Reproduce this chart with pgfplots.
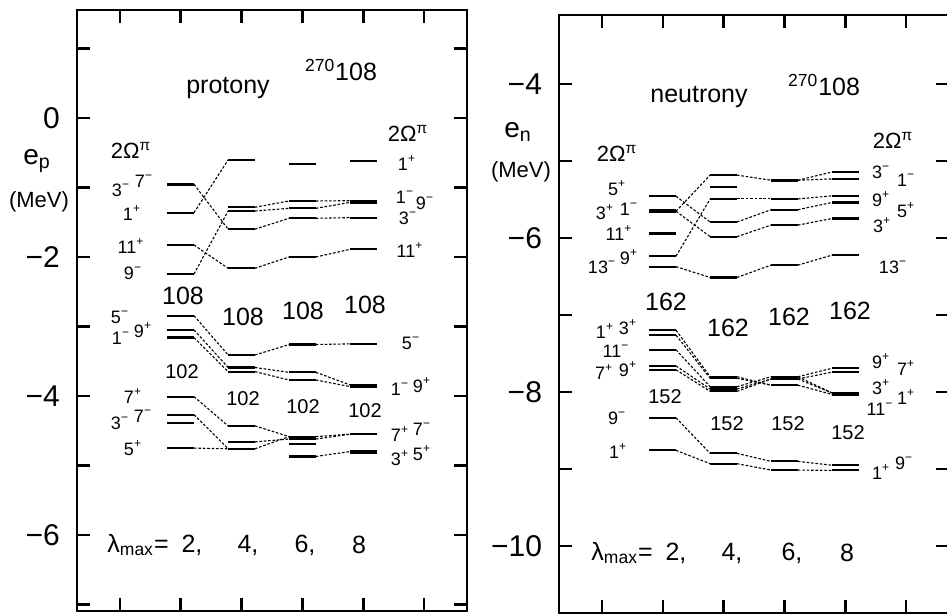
\documentclass[border=0pt]{standalone}
\usepackage{pgfplots}
\pgfplotsset{compat=1.18}
\usepackage{pgfplotstable}
\usepackage{fontspec}
\setmainfont{Liberation Sans}

\newcommand{\ticklab}{\fontsize{15}{15}\selectfont}
\newcommand{\flv}{\fontsize{9}{9}\selectfont}
\newcommand{\fbg}{\fontsize{12.5}{12.5}\selectfont}
\newcommand{\fep}{\fontsize{14}{14}\selectfont}
\newcommand{\fmd}{\fontsize{10}{10}\selectfont}
\newcommand{\fom}{\fontsize{11}{11}\selectfont}
\newcommand{\tx}[4]{\node[font=#1, inner sep=0pt] at ({#2*0.5pt},{-#3*0.5pt}) {#4};}
\newcommand{\s}[2]{#1\textsuperscript{#2}}

% proton levels: column x (2=lambda 2, 3=lambda 4, 4=lambda 6, 5=lambda 8), energy
\pgfplotstableread{
x y
2 -0.945
2 -0.965
2 -1.362
2 -1.827
2 -2.245
2 -2.845
2 -3.05
2 -3.16
2 -4.01
2 -4.27
2 -4.39
2 -4.75
3 -0.604
3 -1.285
3 -1.338
3 -1.60
3 -2.163
3 -3.41
3 -3.59
3 -3.65
3 -4.43
3 -4.66
3 -4.76
4 -0.667
4 -1.194
4 -1.30
4 -1.443
4 -2.0
4 -3.26
4 -3.66
4 -3.77
4 -4.585
4 -4.62
4 -4.69
4 -4.87
5 -0.614
5 -1.19
5 -1.215
5 -1.434
5 -1.89
5 -3.25
5 -3.84
5 -3.865
5 -4.55
5 -4.79
5 -4.815
}\pLev

% proton connections: from column x, energy e1 to next column, energy e2
\pgfplotstableread{
x e1 e2
2 -0.954 -1.60
2 -1.362 -0.604
2 -1.827 -2.163
2 -2.245 -1.338
2 -2.845 -3.41
2 -3.05 -3.59
2 -3.16 -3.65
2 -4.01 -4.43
2 -4.27 -4.76
2 -4.75 -4.76
3 -1.285 -1.194
3 -1.338 -1.30
3 -1.60 -1.443
3 -2.163 -2.0
3 -3.41 -3.26
3 -3.59 -3.66
3 -3.65 -3.77
3 -4.43 -4.585
3 -4.66 -4.62
3 -4.76 -4.585
4 -1.194 -1.19
4 -1.30 -1.215
4 -1.443 -1.434
4 -2.0 -1.89
4 -3.26 -3.25
4 -3.66 -3.84
4 -3.77 -3.865
4 -4.585 -4.55
4 -4.62 -4.55
4 -4.87 -4.80
}\pConn

% neutron levels
\pgfplotstableread{
x y
2 -5.455
2 -5.64
2 -5.66
2 -5.94
2 -6.234
2 -6.37
2 -7.195
2 -7.26
2 -7.45
2 -7.66
2 -7.71
2 -8.334
2 -8.757
3 -5.18
3 -5.334
3 -5.49
3 -5.79
3 -5.98
3 -6.51
3 -7.80
3 -7.82
3 -7.93
3 -7.96
3 -7.99
3 -8.796
3 -8.93
4 -5.24
4 -5.255
4 -5.49
4 -5.63
4 -5.83
4 -6.35
4 -7.80
4 -7.83
4 -7.91
4 -8.90
4 -9.013
5 -5.14
5 -5.23
5 -5.45
5 -5.536
5 -5.744
5 -6.22
5 -7.69
5 -7.74
5 -8.01
5 -8.03
5 -8.95
5 -9.017
}\nLev

% neutron connections
\pgfplotstableread{
x e1 e2
2 -5.455 -5.79
2 -5.65 -5.18
2 -5.65 -5.98
2 -6.234 -5.49
2 -6.37 -6.51
2 -7.195 -7.80
2 -7.26 -7.82
2 -7.45 -7.93
2 -7.66 -7.96
2 -7.71 -7.99
2 -8.334 -8.796
2 -8.757 -8.93
3 -5.18 -5.247
3 -5.49 -5.49
3 -5.79 -5.63
3 -5.98 -5.83
3 -6.51 -6.35
3 -7.80 -7.91
3 -7.82 -7.91
3 -7.93 -7.80
3 -7.96 -7.83
3 -7.99 -7.83
3 -8.796 -8.90
3 -8.93 -9.013
4 -5.247 -5.14
4 -5.247 -5.23
4 -5.49 -5.45
4 -5.63 -5.536
4 -5.83 -5.744
4 -6.35 -6.22
4 -7.80 -7.69
4 -7.83 -7.74
4 -7.80 -8.01
4 -7.83 -8.01
4 -7.91 -8.03
4 -8.90 -8.95
4 -9.013 -9.017
}\nConn

\pgfplotsset{
  lvlaxis/.style={
    scale only axis, width=195pt,
    xmin=0.3, xmax=6.7, xtick={1,2,3,4,5,6}, xticklabels={},
    axis line style={line width=1.4pt},
    tick style={line width=1.1pt, black},
    major tick length=6.5pt, minor tick length=6.5pt,
    tick align=inside,
    /pgf/number format/assume math mode=true,
    yticklabel style={font=\ticklab, xshift=-5pt},
    clip=false,
  },
  lvl/.style={draw=none, mark=none,
    error bars/x dir=both, error bars/x fixed=0.22,
    error bars/error mark=none,
    error bars/error bar style={draw=black, line width=1.1pt, solid}},
  conn/.style={black, mark=none, line width=0.55pt, dash pattern=on 1.3pt off 0.9pt,
    quiver={u=0.56, v=\thisrow{e2}-\thisrow{e1}}},
}

\begin{document}
\begin{tikzpicture}
% ---------------- protons ----------------
\begin{axis}[lvlaxis, at={(38.5pt,-5pt)}, anchor=north west, height=300.5pt,
  ymin=-7.094, ymax=1.554, ytick={-6,-4,-2,0}, yticklabels={−6,−4,−2,0},
  minor ytick={-7,-5,-3,-1,1}]
\addplot[lvl] table[x=x, y=y] {\pLev};
\addplot[conn] table[x expr=\thisrow{x}+0.22, y=e1] {\pConn};
\end{axis}
% ---------------- neutrons ----------------
\begin{axis}[lvlaxis, at={(279.5pt,-7.5pt)}, anchor=north west, height=299pt,
  ymin=-10.87, ymax=-3.10, ytick={-10,-8,-6,-4}, yticklabels={−10,−8,−6,−4},
  minor ytick={-9,-7,-5}]
\addplot[lvl] table[x=x, y=y] {\nLev};
\addplot[conn] table[x expr=\thisrow{x}+0.22, y=e1] {\nConn};
\end{axis}

% ---- proton texts ----
\tx{\fbg}{228}{88}{protony}
\tx{\fbg}{341}{70}{\textsuperscript{270}108}
\tx{\fep}{37}{161}{e\textsubscript{p}}
\tx{\fom}{39}{202}{(MeV)}
\tx{\fom}{131}{150}{2Ω\textsuperscript{π}}
\tx{\fom}{408}{133}{2Ω\textsuperscript{π}}
\tx{\flv}{121}{190}{\s{3}{−}}
\tx{\flv}{144}{181}{\s{7}{−}}
\tx{\flv}{132}{213}{\s{1}{+}}
\tx{\flv}{131}{246}{\s{11}{+}}
\tx{\flv}{133}{273}{\s{9}{−}}
\tx{\flv}{120}{317}{\s{5}{−}}
\tx{\flv}{121}{338}{\s{1}{−}}
\tx{\flv}{143}{330}{\s{9}{+}}
\tx{\flv}{133}{396}{\s{7}{+}}
\tx{\flv}{120}{423}{\s{3}{−}}
\tx{\flv}{143}{416}{\s{7}{−}}
\tx{\flv}{133}{448}{\s{5}{+}}
\tx{\flv}{407}{163}{\s{1}{+}}
\tx{\flv}{405}{197}{\s{1}{−}}
\tx{\flv}{425}{203}{\s{9}{−}}
\tx{\flv}{408}{218}{\s{3}{−}}
\tx{\flv}{410}{250}{\s{11}{+}}
\tx{\flv}{411}{343}{\s{5}{−}}
\tx{\flv}{400}{389}{\s{1}{−}}
\tx{\flv}{422}{385}{\s{9}{+}}
\tx{\flv}{400}{434}{\s{7}{+}}
\tx{\flv}{422}{429}{\s{7}{−}}
\tx{\flv}{400}{458}{\s{3}{+}}
\tx{\flv}{422}{453}{\s{5}{+}}
\tx{\fbg}{183}{296}{108}
\tx{\fbg}{243}{317}{108}
\tx{\fbg}{303}{311}{108}
\tx{\fbg}{365}{305}{108}
\tx{\fmd}{182}{372}{102}
\tx{\fmd}{243}{399}{102}
\tx{\fmd}{303}{407}{102}
\tx{\fmd}{365}{411}{102}
\node[font=\fbg, inner sep=0pt, anchor=east] at ({169*0.5pt},{-545*0.5pt}) {λ\textsubscript{max}=};
\tx{\fbg}{192}{545}{2,}
\tx{\fbg}{248}{545}{4,}
\tx{\fbg}{305}{545}{6,}
\tx{\fbg}{359}{545}{8}

% ---- neutron texts ----
\tx{\fbg}{699}{97}{neutrony}
\tx{\fbg}{824}{85}{\textsuperscript{270}108}
\tx{\fep}{518}{132}{e\textsubscript{n}}
\tx{\fom}{521}{172}{(MeV)}
\tx{\fom}{617}{153}{2Ω\textsuperscript{π}}
\tx{\fom}{893}{140}{2Ω\textsuperscript{π}}
\tx{\flv}{617}{188}{\s{5}{+}}
\tx{\flv}{605}{212}{\s{3}{+}}
\tx{\flv}{629}{209}{\s{1}{−}}
\tx{\flv}{619}{233}{\s{11}{+}}
\tx{\flv}{602}{267}{\s{13}{−}}
\tx{\flv}{629}{257}{\s{9}{+}}
\tx{\flv}{605}{331}{\s{1}{+}}
\tx{\flv}{628}{327}{\s{3}{+}}
\tx{\flv}{616}{351}{\s{11}{−}}
\tx{\flv}{604}{372}{\s{7}{+}}
\tx{\flv}{628}{369}{\s{9}{+}}
\tx{\flv}{617}{418}{\s{9}{−}}
\tx{\flv}{618}{451}{\s{1}{+}}
\tx{\flv}{881}{172}{\s{3}{−}}
\tx{\flv}{906}{180}{\s{1}{−}}
\tx{\flv}{881}{199}{\s{9}{+}}
\tx{\flv}{906}{210}{\s{5}{+}}
\tx{\flv}{882}{225}{\s{3}{+}}
\tx{\flv}{893}{267}{\s{13}{−}}
\tx{\flv}{881}{361}{\s{9}{+}}
\tx{\flv}{906}{368}{\s{7}{+}}
\tx{\flv}{881}{387}{\s{3}{+}}
\tx{\flv}{906}{397}{\s{1}{+}}
\tx{\flv}{880}{409}{\s{11}{−}}
\tx{\flv}{881}{472}{\s{1}{+}}
\tx{\flv}{904}{463}{\s{9}{−}}
\tx{\fbg}{666}{302}{162}
\tx{\fbg}{728}{328}{162}
\tx{\fbg}{789}{317}{162}
\tx{\fbg}{850}{311}{162}
\tx{\fmd}{665}{397}{152}
\tx{\fmd}{727}{424}{152}
\tx{\fmd}{788}{424}{152}
\tx{\fmd}{848}{433}{152}
\node[font=\fbg, inner sep=0pt, anchor=east] at ({653*0.5pt},{-553*0.5pt}) {λ\textsubscript{max}=};
\tx{\fbg}{676}{553}{2,}
\tx{\fbg}{732}{553}{4,}
\tx{\fbg}{792}{553}{6,}
\tx{\fbg}{847}{553}{8}

\pgfresetboundingbox
\useasboundingbox (0pt,0pt) rectangle (473.5pt,-307pt);
\end{tikzpicture}
\end{document}
